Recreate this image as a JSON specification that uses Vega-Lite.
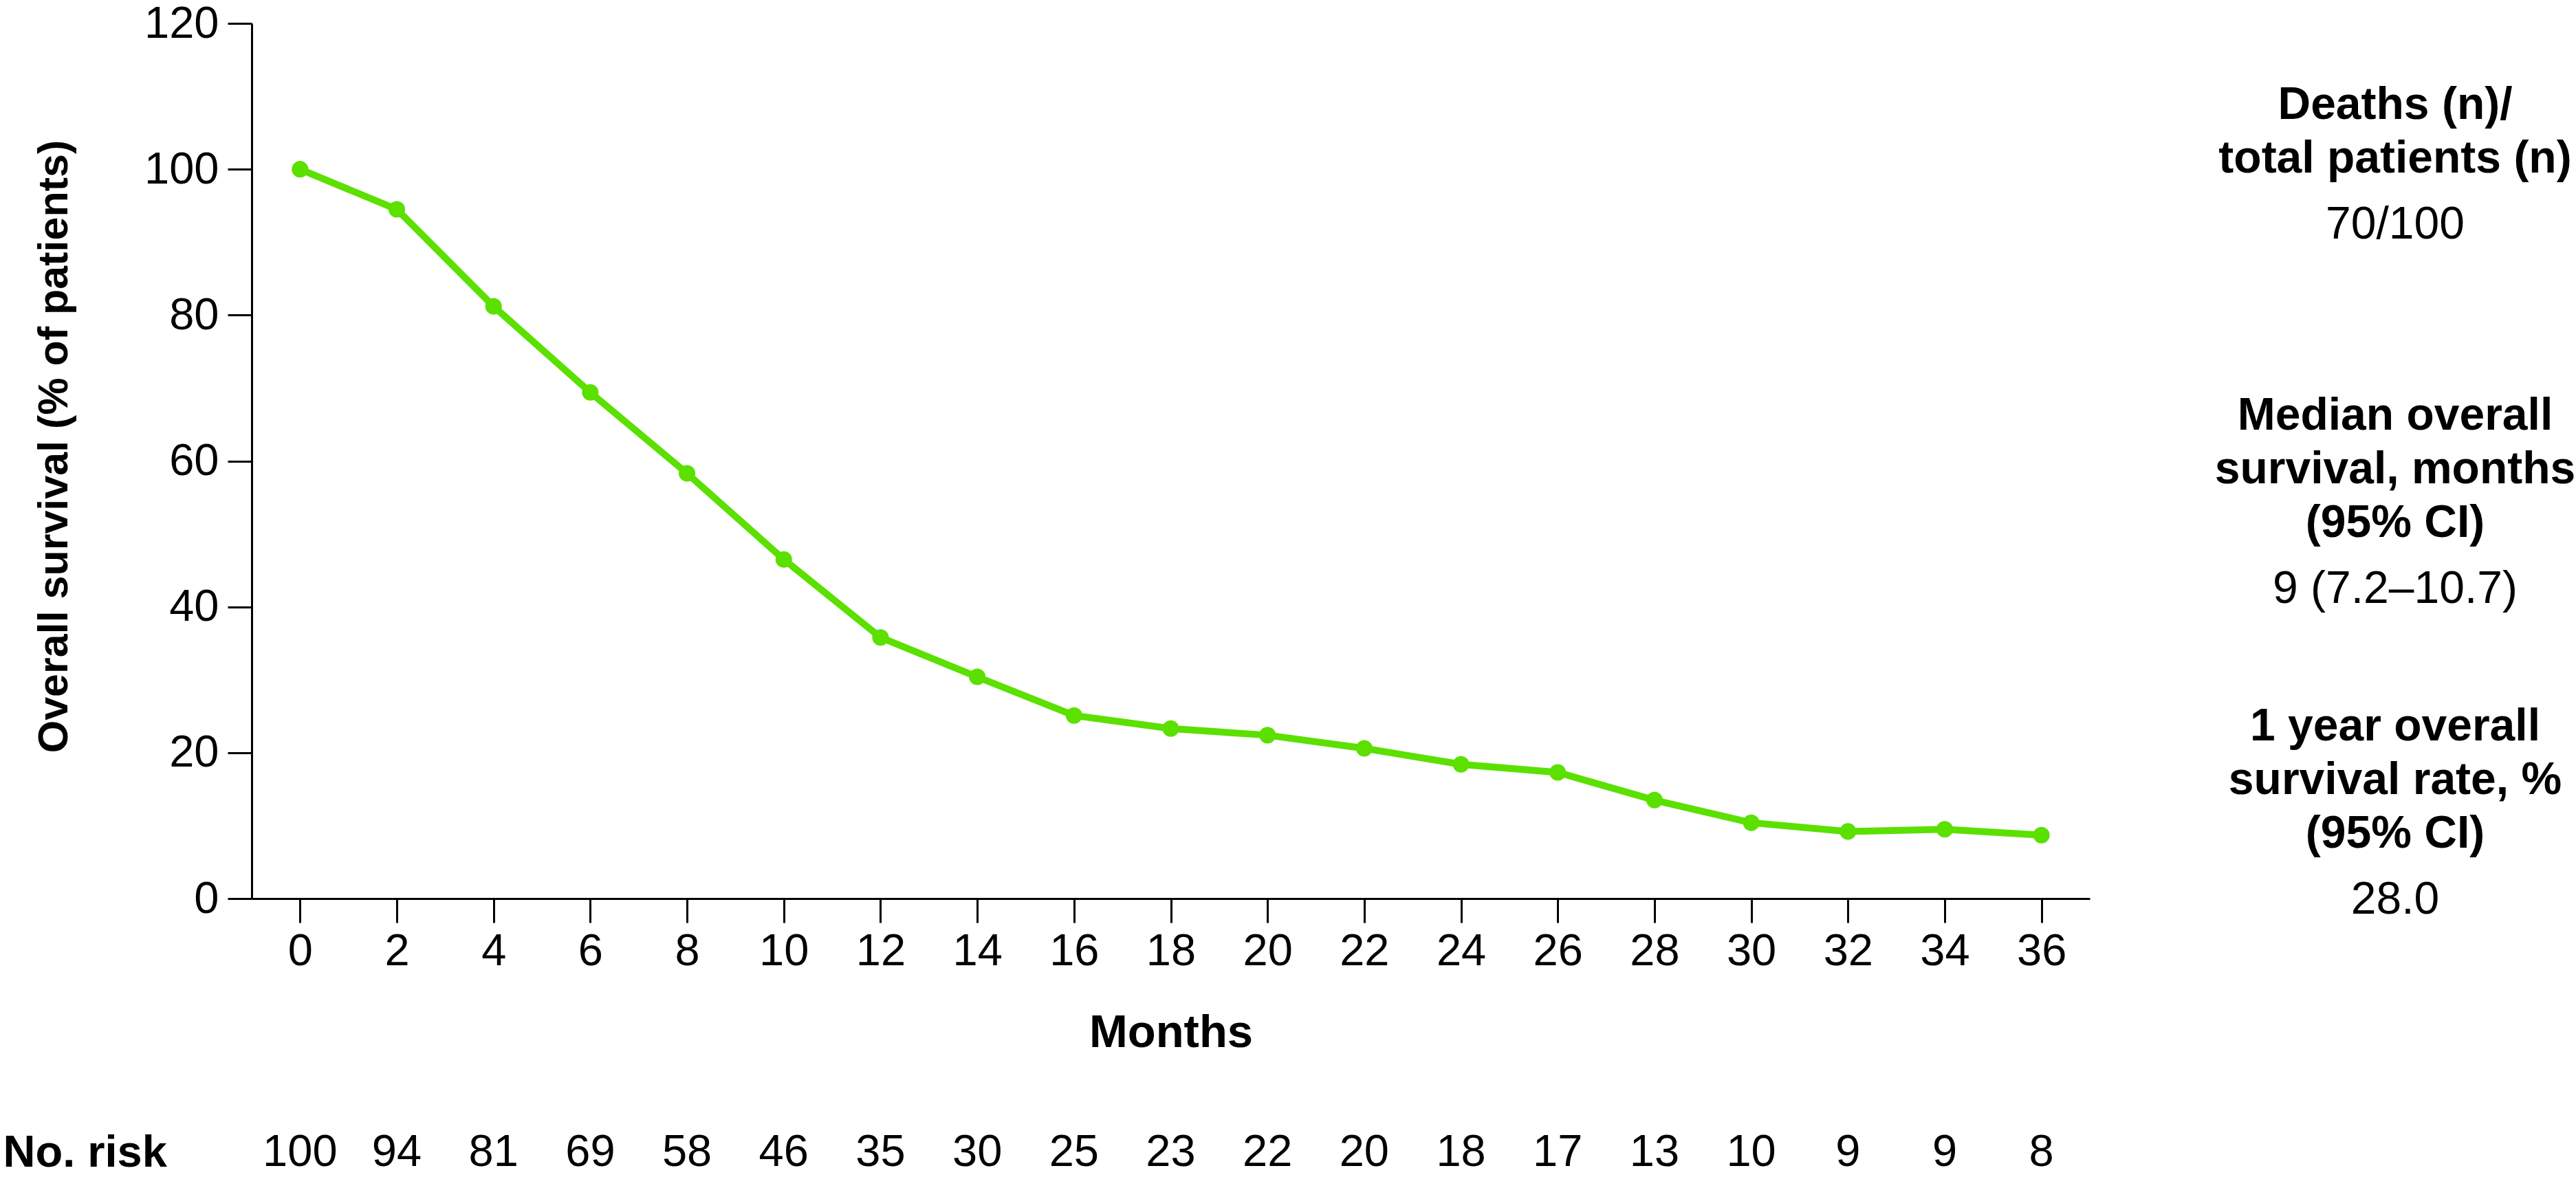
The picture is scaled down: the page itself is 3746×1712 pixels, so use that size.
{
  "$schema": "https://vega.github.io/schema/vega-lite/v6.json",
  "padding": {"left": 4, "top": 2, "right": 0, "bottom": 0},
  "background": "white",
  "config": {
    "font": "Liberation Sans",
    "view": {"stroke": null},
    "axis": {
      "domainColor": "black", "tickColor": "black", "labelColor": "black", "titleColor": "black",
      "domainWidth": 3, "tickWidth": 3, "grid": false,
      "labelFont": "Liberation Sans", "titleFont": "Liberation Sans"
    }
  },
  "datasets": {
    "survival": [
      {"month": 0, "survival": 100}, {"month": 2, "survival": 94.5}, {"month": 4, "survival": 81.2},
      {"month": 6, "survival": 69.4}, {"month": 8, "survival": 58.3}, {"month": 10, "survival": 46.5},
      {"month": 12, "survival": 35.8}, {"month": 14, "survival": 30.4}, {"month": 16, "survival": 25.1},
      {"month": 18, "survival": 23.3}, {"month": 20, "survival": 22.4}, {"month": 22, "survival": 20.6},
      {"month": 24, "survival": 18.4}, {"month": 26, "survival": 17.3}, {"month": 28, "survival": 13.5},
      {"month": 30, "survival": 10.4}, {"month": 32, "survival": 9.2}, {"month": 34, "survival": 9.5},
      {"month": 36, "survival": 8.7}
    ],
    "risk": [
      {"row": "No. risk", "month": 0, "n": 100}, {"row": "No. risk", "month": 2, "n": 94},
      {"row": "No. risk", "month": 4, "n": 81}, {"row": "No. risk", "month": 6, "n": 69},
      {"row": "No. risk", "month": 8, "n": 58}, {"row": "No. risk", "month": 10, "n": 46},
      {"row": "No. risk", "month": 12, "n": 35}, {"row": "No. risk", "month": 14, "n": 30},
      {"row": "No. risk", "month": 16, "n": 25}, {"row": "No. risk", "month": 18, "n": 23},
      {"row": "No. risk", "month": 20, "n": 22}, {"row": "No. risk", "month": 22, "n": 20},
      {"row": "No. risk", "month": 24, "n": 18}, {"row": "No. risk", "month": 26, "n": 17},
      {"row": "No. risk", "month": 28, "n": 13}, {"row": "No. risk", "month": 30, "n": 10},
      {"row": "No. risk", "month": 32, "n": 9}, {"row": "No. risk", "month": 34, "n": 9},
      {"row": "No. risk", "month": 36, "n": 8}
    ],
    "stats": [
      {"block": "deaths", "line": 1, "kind": "header", "text": "Deaths (n)/"},
      {"block": "deaths", "line": 2, "kind": "header", "text": "total patients (n)"},
      {"block": "deaths", "line": 3, "kind": "value", "text": "70/100"},
      {"block": "median", "line": 1, "kind": "header", "text": "Median overall"},
      {"block": "median", "line": 2, "kind": "header", "text": "survival, months"},
      {"block": "median", "line": 3, "kind": "header", "text": "(95% CI)"},
      {"block": "median", "line": 4, "kind": "value", "text": "9 (7.2–10.7)"},
      {"block": "oneyear", "line": 1, "kind": "header", "text": "1 year overall"},
      {"block": "oneyear", "line": 2, "kind": "header", "text": "survival rate, %"},
      {"block": "oneyear", "line": 3, "kind": "header", "text": "(95% CI)"},
      {"block": "oneyear", "line": 4, "kind": "value", "text": "28.0"}
    ]
  },
  "spacing": 181,
  "hconcat": [
    {
      "spacing": 101,
      "vconcat": [
        {
          "width": 2673,
          "height": 1273,
          "data": {"name": "survival"},
          "encoding": {
            "x": {
              "field": "month", "type": "quantitative",
              "scale": {"domain": [-1, 37], "nice": false, "zero": false},
              "axis": {
                "values": [0, 2, 4, 6, 8, 10, 12, 14, 16, 18, 20, 22, 24, 26, 28, 30, 32, 34, 36],
                "title": "Months", "tickSize": 35, "labelPadding": 10, "labelFontSize": 65,
                "titleFontSize": 67, "titleFontWeight": "bold", "titlePadding": 53,
                "labelFlush": false, "labelOverlap": false
              }
            },
            "y": {
              "field": "survival", "type": "quantitative",
              "scale": {"domain": [0, 120], "nice": false},
              "axis": {
                "values": [0, 20, 40, 60, 80, 100, 120],
                "title": "Overall survival (% of patients)", "tickSize": 35, "labelPadding": 13,
                "labelFontSize": 65, "titleFontSize": 61, "titleFontWeight": "bold", "titlePadding": 99,
                "titleY": 615, "labelOverlap": false
              }
            }
          },
          "layer": [
            {"mark": {"type": "line", "color": "#5BE000", "strokeWidth": 10}},
            {"mark": {"type": "point", "filled": true, "opacity": 1, "color": "#5BE000", "size": 580}}
          ]
        },
        {
          "width": 2673,
          "height": 80,
          "data": {"name": "risk"},
          "mark": {"type": "text", "fontSize": 65, "baseline": "middle", "color": "black"},
          "encoding": {
            "x": {
              "field": "month", "type": "quantitative",
              "scale": {"domain": [-1, 37], "nice": false, "zero": false},
              "axis": null
            },
            "y": {
              "field": "row", "type": "nominal",
              "axis": {
                "title": null, "domain": false, "ticks": false, "labelAlign": "left",
                "labelPadding": 362, "labelFontSize": 65, "labelFontWeight": "bold", "labelLimit": 0
              }
            },
            "text": {"field": "n", "type": "quantitative"}
          }
        }
      ]
    },
    {
      "width": 516,
      "height": 1376,
      "data": {"name": "stats"},
      "encoding": {
        "y": {
          "field": "block", "type": "nominal", "sort": ["deaths", "median", "oneyear"],
          "scale": {"type": "band", "paddingInner": 0.309, "paddingOuter": 0.178}, "axis": null
        },
        "yOffset": {
          "field": "line", "type": "ordinal",
          "scale": {"type": "band", "domain": [1, 2, 3, 4], "paddingInner": 0, "paddingOuter": 0}
        },
        "text": {"field": "text", "type": "nominal"}
      },
      "layer": [
        {
          "transform": [{"filter": "datum.kind === 'header'"}],
          "mark": {"type": "text", "fontSize": 66, "fontWeight": "bold", "baseline": "middle", "color": "black"}
        },
        {
          "transform": [{"filter": "datum.kind === 'value'"}],
          "mark": {"type": "text", "fontSize": 66, "baseline": "middle", "dy": 18, "color": "black"}
        }
      ]
    }
  ]
}
